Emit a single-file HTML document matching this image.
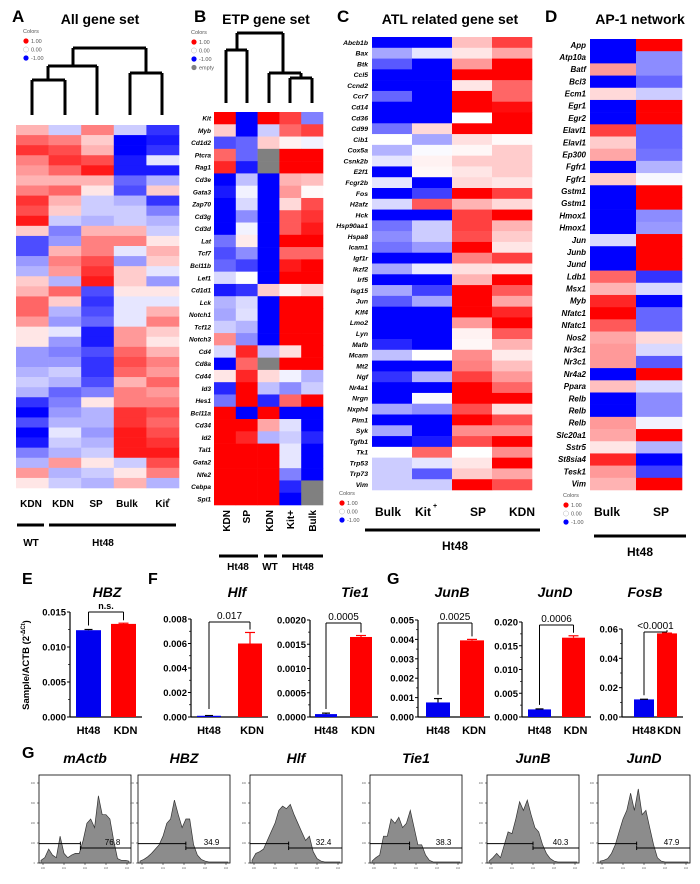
<!DOCTYPE html>
<html><head><meta charset="utf-8"><style>
html,body{margin:0;padding:0;background:#fff;}
svg{display:block;font-family:"Liberation Sans",sans-serif;}
</style></head><body>
<svg id="fig" width="700" height="884" viewBox="0 0 700 884" xmlns="http://www.w3.org/2000/svg">
</svg>
<script>
// ---------- DATA ----------
const aCols = ["KDN","KDN","SP","Bulk","Kit+"];
const aBands = [
[0.3,-0.2,0.5,-0.2,-0.8],[0.6,0.5,0.2,-1,-0.9],[0.8,0.7,0.3,-1,-0.8],[0.5,0.8,0.7,-0.9,-0.1],
[0.4,0.6,0.9,-0.9,-0.9],[0.3,0.3,0.3,-0.6,-0.3],[0.5,0.6,0.1,-0.7,0.2],[0.8,0.3,-0.2,-0.3,-0.8],
[0.7,0.2,-0.2,-0.2,-0.5],[0.9,-0.2,-0.3,-0.2,-0.3],[0.2,-0.5,0.3,0.3,-0.2],[-0.7,-0.4,0.5,0.5,0.1],
[-0.7,0.3,0.5,-0.1,0.3],[-0.4,0.5,0.7,-0.4,0.2],[-0.3,0.4,0.8,0.2,-0.1],[0.2,-0.3,0.9,0.2,-0.4],
[0.3,0.6,-0.7,0.1,0.1],[0.6,0.2,-0.8,-0.1,-0.1],[0.6,-0.3,-0.7,-0.1,0.3],[0.4,-0.4,-0.6,-0.1,0.5],
[0.1,-0.1,-0.9,0.4,0.2],[0.1,-0.4,-0.9,0.4,0.1],[-0.4,-0.5,-0.7,0.6,0.3],[-0.4,-0.4,-0.8,0.7,0.5],
[-0.3,-0.2,-0.8,0.6,0.4],[-0.2,-0.3,-0.7,0.3,0.6],[-0.3,-0.6,-0.5,0.5,0.4],[-0.8,-0.5,0.1,0.5,0.5],
[-1,-0.4,-0.3,0.8,0.7],[-0.7,-0.3,-0.3,0.8,0.6],[-1,-0.1,-0.4,0.9,0.7],[-0.9,-0.2,-0.3,0.9,0.8],
[-0.5,-0.3,-0.2,0.9,0.9],[-0.3,0.4,0.1,-0.2,0.7],[0.4,-0.3,-0.2,0.1,0.5],[0.1,-0.2,-0.3,0.3,-0.3]];

const bGenes = ["Kit","Myb","Cd1d2","Ptcra","Rag1","Cd3e","Gata3","Zap70","Cd3g","Cd3d","Lat","Tcf7","Bcl11b","Lef1","Cd1d1","Lck","Notch1","Tcf12","Notch3","Cd4","Cd8a","Cd44","Id3","Hes1","Bcl11a","Cd34","Id2","Tal1","Gata2","Nfe2","Cebpa","Spi1"];
const bVals = [
[1,-1,1,0.75,-0.5],[0.2,-1,-0.2,0.6,0.75],[-0.7,-0.6,0.2,0.05,-0.05],[0.6,-0.6,null,1,1],[0.85,-0.9,null,1,1],
[-1,-0.25,-1,0.3,0.25],[-0.9,-0.05,-1,0.4,0.02],[-1,-0.15,-1,0.15,0.7],[-1,-0.45,-1,0.65,0.8],[-1,-0.05,-1,0.65,0.9],
[-0.55,0.08,-1,1,1],[-0.7,-0.45,-1,0.6,0.6],[-0.6,-0.75,-1,0.9,1],[-0.15,0,-1,1,1],[-0.9,-0.8,0.2,0.05,0.15],
[-0.3,-0.15,-1,1,1],[-0.35,-0.12,-1,1,1],[-0.2,-0.3,-1,1,1],[0.45,-0.45,-1,1,1],[-0.15,0.85,-0.25,0.12,1],
[-1,0.6,null,1,1],[0.1,0.85,0.15,-0.05,-0.3],[-0.85,1,-0.25,-0.45,-0.2],[-0.55,1,-0.85,0.6,1],[1,-1,1,-1,-1],
[1,1,0.35,-0.12,-1],[1,0.85,-0.3,-0.2,-0.85],[1,1,1,-0.1,-1],[1,1,1,-0.1,-1],[1,1,1,-0.5,-1],[1,1,1,-0.85,null],[1,1,1,-1,null]];

const cGenes = ["Abcb1b","Bax","Btk","Ccl5","Ccnd2","Ccr7","Cd14","Cd36","Cd99","Cib1","Cox5a","Csnk2b","E2f1","Fcgr2b","Fos","H2afz","Hck","Hsp90aa1","Hspa8","Icam1","Igf1r","Ikzf2","Irf5","Isg15","Jun","Klf4","Lmo2","Lyn","Mafb","Mcam","Mt2","Ngf","Nr4a1","Nrgn","Nxph4","Pim1","Syk","Tgfb1","Tk1","Trp53","Trp73","Vim"];
const cVals = [
[-1,-1,0.25,0.75],[-0.35,-0.1,0.1,0.35],[-0.65,-1,0.4,1],[-1,-1,1,1],[-1,-1,0.1,0.6],[-0.6,-1,1,0.6],
[-1,-1,1,0.95],[-1,-1,0,1],[-0.55,0.15,1,1],[0,-0.35,0.12,0.02],[-0.3,-0.02,0.03,0.2],[-0.1,0.05,0.2,0.2],
[-1,0.03,0.1,0.2],[-0.1,-1,0.15,0.1],[-1,-0.75,1,0.75],[-0.15,0.65,0.3,0.15],[-1,-1,0.75,1],[-0.55,-0.2,0.75,0.3],
[-0.45,-0.2,0.7,0.2],[-0.55,-0.4,1,0.1],[-1,-1,0.5,0.75],[-0.35,-0.08,0.12,0.1],[-1,-1,0.3,1],[-0.35,-0.75,1,0.65],
[-0.65,-0.35,1,0.35],[-1,-1,1,0.85],[-1,-1,0.4,1],[-1,-1,0.05,0.65],[-0.85,-1,0.03,0.3],[-0.25,0,0.45,0.08],
[-1,-1,0.5,0.25],[-0.8,-0.3,0.75,0.4],[-1,-1,1,0.6],[-1,-0.02,1,1],[-0.35,-0.45,0.7,0.12],[-1,-1,1,0.7],
[-0.35,-1,0.45,0.45],[-1,-0.9,0.7,1],[0,0.6,0,0.45],[-0.2,-0.1,0.1,1],[-0.2,-0.65,0.2,0.35],[-0.2,-0.2,1,0.7]];

const dGenes = ["App","Atp10a","Batf","Bcl3","Ecm1","Egr1","Egr2","Elavl1","Elavl1","Ep300","Fgfr1","Fgfr1","Gstm1","Gstm1","Hmox1","Hmox1","Jun","Junb","Jund","Ldb1","Msx1","Myb","Nfatc1","Nfatc1","Nos2","Nr3c1","Nr3c1","Nr4a2","Ppara","Relb","Relb","Relb","Slc20a1","Sstr5","St8sia4","Tesk1","Vim"];
const dVals = [
[-1,1],[-1,-0.45],[0.4,-0.45],[-1,-0.6],[0.15,-0.2],[-1,1],[-1,1],[0.75,-0.6],[0.2,-0.6],[0.35,-0.55],
[-1,-0.3],[0.2,-0.03],[-1,1],[-1,1],[-1,-0.45],[-1,-0.4],[-0.15,1],[-1,1],[-1,1],[0.6,-0.8],
[0.3,-0.15],[0.85,-1],[1,-0.6],[0.65,-0.6],[0.35,0.15],[0.4,-0.15],[0.4,-0.65],[-1,1],[0.25,-0.15],
[-1,-0.45],[-1,-0.45],[0.4,-0.05],[0.35,1],[0.1,-0.3],[0.85,-1],[0.4,-0.75],[0.3,1]];

// bar charts
const barGenes = ["HBZ","Hlf","Tie1","JunB","JunD","FosB"];
const barHt48 = [0.0124,0.0001,0.00006,0.00075,0.0016,0.012];
const barKDN = [0.0133,0.0060,0.00165,0.00395,0.0167,0.057];
const barErrHt48 = [0.0125,0.00012,0.00008,0.00095,0.0017,0.0121];
const barErrKDN = [0.0134,0.0069,0.00168,0.0040,0.0171,0.0572];
const barPvals = ["n.s.","0.017","0.0005","0.0025","0.0006","<0.0001"];
const barYMax = [0.015,0.008,0.0020,0.005,0.020,0.06];
const barTicks = [["0.000","0.005","0.010","0.015"],["0.000","0.002","0.004","0.006","0.008"],["0.0000","0.0005","0.0010","0.0015","0.0020"],["0.000","0.001","0.002","0.003","0.004","0.005"],["0.000","0.005","0.010","0.015","0.020"],["0.00","0.02","0.04","0.06"]];

// flow histograms
const flowGenes = ["mActb","HBZ","Hlf","Tie1","JunB","JunD"];
const flowPct = ["76.8","34.9","32.4","38.3","40.3","47.9"];
const flowGate = [0.45,0.52,0.42,0.43,0.5,0.42];
const flowCounts = [
[0.02,0.05,0.15,0.08,0.05,0.3,0.1,0.05,0.08,0.1,0.1,0.25,0.45,0.5,0.4,0.77,0.55,0.55,0.5,0.25,0.04,0.02,0.02,0.01],
[0.01,0.03,0.06,0.1,0.15,0.2,0.3,0.45,0.5,0.72,0.55,0.4,0.5,0.5,0.2,0.08,0.03,0.01,0,0,0,0,0,0],
[0.02,0.1,0.12,0.15,0.25,0.35,0.45,0.6,0.65,0.62,0.67,0.55,0.45,0.35,0.25,0.3,0.12,0.04,0.01,0,0,0,0,0],
[0.01,0.05,0.08,0.3,0.3,0.5,0.45,0.52,0.4,0.45,0.6,0.4,0.2,0.2,0.08,0.02,0,0,0,0,0,0,0,0],
[0.01,0.05,0.1,0.05,0.2,0.35,0.33,0.5,0.7,0.6,0.72,0.55,0.4,0.35,0.2,0.1,0.04,0.01,0,0,0,0,0,0],
[0.01,0.02,0.04,0.1,0.2,0.35,0.5,0.6,0.8,0.6,0.85,0.55,0.6,0.4,0.2,0.05,0.01,0,0,0,0,0,0,0]];

// ---------- HELPERS ----------
const svg = document.getElementById('fig');
const NS = "http://www.w3.org/2000/svg";
function mk(tag, attrs, parent){
  const e = document.createElementNS(NS, tag);
  for (const k in attrs) e.setAttribute(k, attrs[k]);
  (parent||svg).appendChild(e);
  return e;
}
function col(v){
  if (v===null) return "#808080";
  if (v>=0){const c=Math.round(255*(1-v));return `rgb(255,${c},${c})`;}
  const c=Math.round(255*(1+v));return `rgb(${c},${c},255)`;
}
function txt(x,y,s,size,opts,name){
  const t = mk('text',Object.assign({x:x,y:y,'font-size':size},opts||{}));
  t.textContent = s;
  
  
  return t;
}
function line(x1,y1,x2,y2,w,name){
  const l = mk('line',{x1:x1,y1:y1,x2:x2,y2:y2,stroke:'#000','stroke-width':w||1});
  
  
  return l;
}
function legend(x,y,withEmpty){
  const g = mk('g',{});
  
  
  txt(x,y,"Colors",5.5,{fill:'#555'},'legend-title');
  const items=[["1.00","#f00"],["0.00","#fff"],["-1.00","#00f"]];
  if(withEmpty) items.push(["empty","#808080"]);
  items.forEach((it,i)=>{
    const c=mk('circle',{cx:x+3,cy:y+8+i*8.5,r:2.6,fill:it[1],stroke:it[1]=="#fff"?'#bbb':'none','stroke-width':0.5},g);
    
    
    const t=txt(x+8,y+10+i*8.5,it[0],5.5,{fill:'#555'},'legend-entry');
    g.appendChild(t);
  });
}
function heat(x0,y0,cw,rh,vals,name){
  vals.forEach((row,r)=>row.forEach((v,c)=>{
    const e=mk('rect',{x:(x0+c*cw).toFixed(2),y:(y0+r*rh).toFixed(2),width:(cw+0.3).toFixed(2),height:(rh+0.3).toFixed(2),fill:col(v)});
    
    
  }));
}
const boldItal={'font-weight':'bold','font-style':'italic'};
const bold={'font-weight':'bold'};

// ---------- PANEL A ----------
txt(12,22,"A",17,bold,'panel-label-a');
txt(100,24,"All gene set",14,Object.assign({'text-anchor':'middle'},bold),'panel-a-title');
legend(23,33,false);
{
  const top=115;
  line(32,80,65,80,3);line(32,80,32,top,3);line(65,80,65,top,3);
  line(48,66,97,66,3);line(48,66,48,80,3);line(97,66,97,top,3);
  line(130,73,162,73,3);line(130,73,130,top,3);line(162,73,162,top,3);
  line(73,48,146,48,3);line(73,48,73,66,3);line(146,48,146,73,3);
}
heat(16,125,32.6,363/aBands.length,aBands,'heatmap-a-cell');
[31,63,96,127,162].forEach((x,i)=>txt(x,507,aCols[i]==="Kit+"?"Kit":aCols[i],10,Object.assign({'text-anchor':'middle'},bold),'column-label'));
txt(167,502,"+",6,bold,'sup');
line(17,525,44,525,3,'group-line-wt');line(49,525,176,525,3,'group-line-ht48');
txt(31,546,"WT",10,Object.assign({'text-anchor':'middle'},bold),'group-label-wt');
txt(103,546,"Ht48",10,Object.assign({'text-anchor':'middle'},bold),'group-label-ht48');

// ---------- PANEL B ----------
txt(194,22,"B",17,bold,'panel-label-b');
txt(266,24,"ETP gene set",14,Object.assign({'text-anchor':'middle'},bold),'panel-b-title');
legend(191,34,true);
{
  const top=112;
  line(226,50,247,50,3);line(226,50,226,top-9,3);line(247,50,247,top-9,3);
  line(290,78,312,78,3);line(290,78,290,top-9,3);line(312,78,312,top-9,3);
  line(269,73,301,73,3);line(269,73,269,top-9,3);line(301,73,301,78,3);
  line(237,33,283,33,3);line(237,33,237,50,3);line(283,33,283,73,3);
}
{
  const y0=112, rh=393/bGenes.length;
  heat(214,y0,21.8,rh,bVals,'heatmap-b-cell');
  bGenes.forEach((g,i)=>txt(211,y0+rh*i+rh*0.7,g,6.5,Object.assign({'text-anchor':'end'},boldItal),'row-label'));
}
[["KDN",226],["SP",246],["KDN",269],["Kit+",290],["Bulk",312]].forEach(p=>{
  txt(p[1]+4,510,p[0],10,Object.assign({'text-anchor':'end',transform:`rotate(-90 ${p[1]+4} 510)`},bold),'column-label');
});
line(219,556,258,556,3);line(264,556,277,556,3);line(282,556,323,556,3);
txt(238,570,"Ht48",10,Object.assign({'text-anchor':'middle'},bold),'group-label-ht48');
txt(270,570,"WT",10,Object.assign({'text-anchor':'middle'},bold),'group-label-wt');
txt(303,570,"Ht48",10,Object.assign({'text-anchor':'middle'},bold),'group-label-ht48');

// ---------- PANEL C ----------
txt(337,22,"C",17,bold,'panel-label-c');
txt(450,24,"ATL related gene set",14,Object.assign({'text-anchor':'middle'},bold),'panel-c-title');
{
  const y0=37, rh=453/cGenes.length;
  heat(372,y0,40,rh,cVals,'heatmap-c-cell');
  cGenes.forEach((g,i)=>txt(368,y0+rh*i+rh*0.72,g,6.8,Object.assign({'text-anchor':'end'},boldItal),'row-label'));
}
legend(339,495,false);
[["Bulk",388],["Kit",423],["SP",478],["KDN",522]].forEach(p=>txt(p[1],516,p[0],12,Object.assign({'text-anchor':'middle'},bold),'column-label'));
txt(433,508,"+",7,bold,'sup');
line(365,530,540,530,3,'group-line-ht48');
txt(455,550,"Ht48",12,Object.assign({'text-anchor':'middle'},bold),'group-label-ht48');

// ---------- PANEL D ----------
txt(545,22,"D",17,bold,'panel-label-d');
txt(640,24,"AP-1 network",14,Object.assign({'text-anchor':'middle'},bold),'panel-d-title');
{
  const y0=39, rh=451/dGenes.length;
  heat(590,y0,46,rh,dVals,'heatmap-d-cell');
  dGenes.forEach((g,i)=>txt(586,y0+rh*i+rh*0.72,g,8,Object.assign({'text-anchor':'end'},boldItal),'row-label'));
}
legend(563,497,false);
[["Bulk",607],["SP",661]].forEach(p=>txt(p[1],516,p[0],12,Object.assign({'text-anchor':'middle'},bold),'column-label'));
line(594,536,686,536,3,'group-line-ht48');
txt(640,556,"Ht48",12,Object.assign({'text-anchor':'middle'},bold),'group-label-ht48');

// ---------- BAR CHARTS ----------
txt(22,584,"E",16,bold,'panel-label-e');
txt(148,584,"F",16,bold,'panel-label-f');
txt(387,584,"G",16,bold,'panel-label-g');
const barAxisX=[70,191,310,418,522,622];
const barTopY=[612,619,620,620,622,629];
const barHtX=[76,197,315,426,528,634];
const barKdX=[111,238,350,460,562,657];
const barW=[25,24,22,24,23,20];
const barTitleX=[107,237,355,452,555,645];
const baseY=717;
{
  const yt=mk('text',{x:29,y:665,'font-size':9.5,'font-weight':'bold','text-anchor':'middle',transform:'rotate(-90 29 665)'});
  
  
  const t1=mk('tspan',{},yt); t1.textContent="Sample/ACTB (2";
  const t2=mk('tspan',{'font-size':6,dy:-4},yt); t2.textContent="-ΔCt";
  const t3=mk('tspan',{dy:4},yt); t3.textContent=")";
}
barGenes.forEach((g,i)=>{
  const ax=barAxisX[i], top=barTopY[i], ymax=barYMax[i];
  const Y=v=>baseY-(v/ymax)*(baseY-top);
  txt(barTitleX[i],597,g,14,Object.assign({'text-anchor':'middle'},boldItal),'bar-chart-title');
  line(ax,top,ax,baseY,1.2,'y-axis');
  line(ax,baseY,barKdX[i]+barW[i]+6,baseY,1.2,'x-axis');
  const tk=barTicks[i];
  tk.forEach((s,j)=>{
    const y=baseY-(j/(tk.length-1))*(baseY-top);
    line(ax-3,y,ax,y,1,'y-tick');
    txt(ax-4,y+3.5,s,9.5,Object.assign({'text-anchor':'end'},bold),'y-tick-label');
    if(j<tk.length-1){const ym=y-(baseY-top)/(tk.length-1)/2;line(ax-2,ym,ax,ym,0.7,'y-minor-tick');}
  });
  const b1=mk('rect',{x:barHtX[i],y:Y(barHt48[i]),width:barW[i],height:baseY-Y(barHt48[i]),fill:'#0000f0'});
  
  
  const b2=mk('rect',{x:barKdX[i],y:Y(barKDN[i]),width:barW[i],height:baseY-Y(barKDN[i]),fill:'#f00'});
  
  
  const c1=barHtX[i]+barW[i]/2, c2=barKdX[i]+barW[i]/2;
  line(c1,Y(barHt48[i]),c1,Y(barErrHt48[i]),1.2,'error-bar');
  line(c1-4,Y(barErrHt48[i]),c1+4,Y(barErrHt48[i]),1.2,'error-cap');
  const eb=mk('line',{x1:c2,y1:Y(barKDN[i]),x2:c2,y2:Y(barErrKDN[i]),stroke:'#f00','stroke-width':1.2});
  
  
  const ec=mk('line',{x1:c2-5,y1:Y(barErrKDN[i]),x2:c2+5,y2:Y(barErrKDN[i]),stroke:'#f00','stroke-width':1.2});
  
  
  const by=top+(i==0?0:3);
  line(c1,by,c2,by,1,'bracket');
  line(c1,by,c1,Math.min(Y(barErrHt48[i])-4,baseY-8),1,'bracket');
  line(c2,by,c2,Y(barErrKDN[i])-3,1,'bracket');
  txt((c1+c2)/2,by-3,barPvals[i],i==0?9:10,Object.assign({'text-anchor':'middle'},i==0?bold:{}),'p-value');
  txt(c1,734,"Ht48",11,Object.assign({'text-anchor':'middle'},bold),'x-tick-label');
  txt(c2+2,734,"KDN",11,Object.assign({'text-anchor':'middle'},bold),'x-tick-label');
});

// ---------- FLOW HISTOGRAMS ----------
txt(22,758,"G",16,bold,'panel-label-g2');
const flowX=[39,138,250,370,487,598];
const flowW=92, flowTop=775, flowBot=863;
flowGenes.forEach((g,i)=>{
  const x0=flowX[i], H=flowBot-flowTop, d=flowCounts[i];
  txt(x0+flowW/2,763,g,14,Object.assign({'text-anchor':'middle'},boldItal),'histogram-title');
  const box=mk('rect',{x:x0,y:flowTop,width:flowW,height:H,fill:'#fff',stroke:'#000','stroke-width':0.8});
  
  
  const X=j=>x0+2+(j/(d.length-1))*(flowW-4);
  const Yv=v=>flowBot-1-v*(H-2);
  let p=`M${X(0)},${flowBot}`;
  d.forEach((v,j)=>p+=` L${X(j).toFixed(1)},${Yv(v).toFixed(1)}`);
  p+=` L${X(d.length-1)},${flowBot} Z`;
  const path=mk('path',{d:p,fill:'#8c8c8c',stroke:'#333','stroke-width':0.7});
  
  
  for(let k=0;k<5;k++){
    const ty=flowBot-k*(H/4.4);
    line(x0-2,ty,x0,ty,0.5,'y-tick');
    txt(x0-4,ty+1,(k*100).toString(),2.5,{'text-anchor':'end',fill:'#666'},'y-tick-label');
    const tx=x0+4+k*(flowW-8)/4;
    line(tx,flowBot,tx,flowBot+2,0.5,'x-tick');
    txt(tx,flowBot+6,"10"+k,2.5,{'text-anchor':'middle',fill:'#666'},'x-tick-label');
  }
  const gx=x0+flowGate[i]*flowW;
  const yL=flowBot-0.22*H, yR=flowBot-0.17*H;
  line(x0,yL,gx,yL,1,'gate-left');line(gx,yL-2,gx,yL+2,1,'gate-tick');
  line(gx,yR,x0+flowW,yR,1,'gate-right');line(gx,yR-2,gx,yR+2,1,'gate-tick');
  txt(x0+flowW*0.8,yR-3,flowPct[i],8,{'text-anchor':'middle'},'gate-percent');
});
</script>
</body></html>
